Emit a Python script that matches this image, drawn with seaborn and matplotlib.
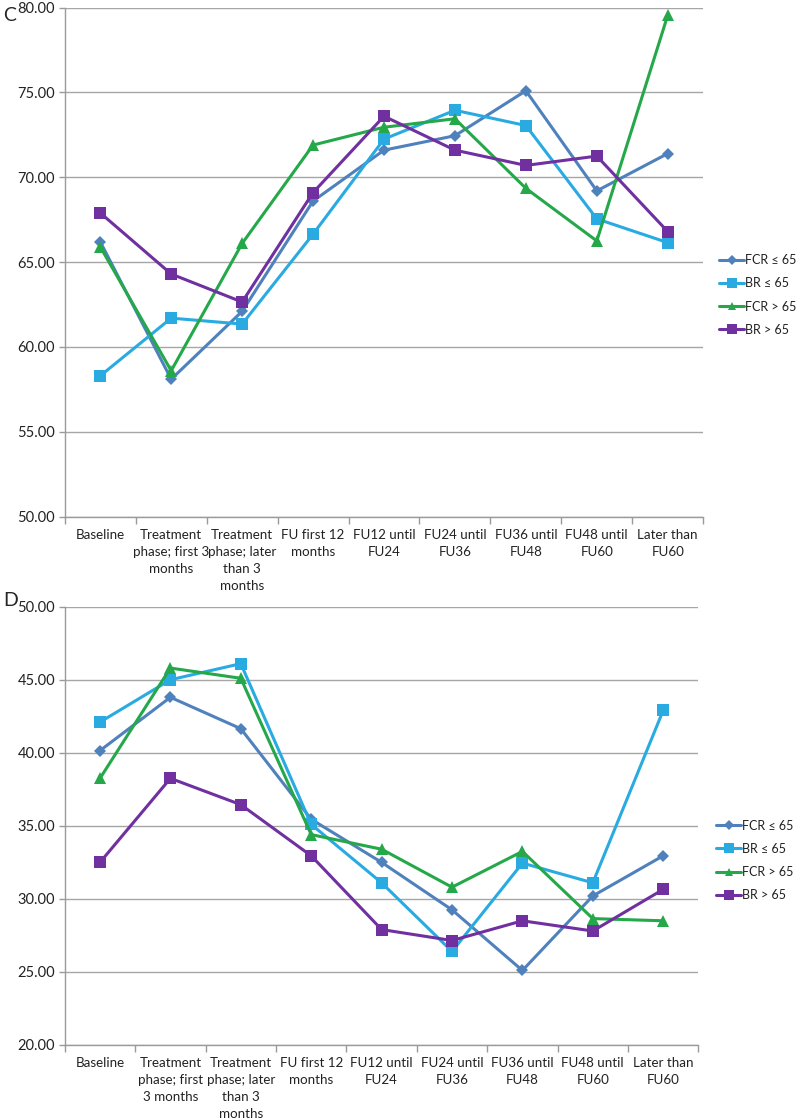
import numpy as np
import pandas as pd
import matplotlib
matplotlib.use("Agg")
import matplotlib.pyplot as plt
from matplotlib.ticker import FixedLocator, FormatStrFormatter
import seaborn as sns

# categories (x axis)
labels_c = ['Baseline', 'Treatment\nphase; first 3\nmonths', 'Treatment\nphase; later\nthan 3\nmonths',
            'FU first 12\nmonths', 'FU12 until\nFU24', 'FU24 until\nFU36', 'FU36 until\nFU48',
            'FU48 until\nFU60', 'Later than\nFU60']
labels_d = ['Baseline', 'Treatment\nphase; first\n3 months', 'Treatment\nphase; later\nthan 3\nmonths',
            'FU first 12\nmonths', 'FU12 until\nFU24', 'FU24 until\nFU36', 'FU36 until\nFU48',
            'FU48 until\nFU60', 'Later than\nFU60']

series = ['FCR ≤ 65', 'BR ≤ 65', 'FCR > 65', 'BR > 65']

# panel C values
c_fcr_le = [66.2, 58.1, 62.1, 68.6, 71.6, 72.45, 75.1, 69.2, 71.4]
c_br_le = [58.3, 61.7, 61.35, 66.65, 72.25, 73.95, 73.05, 67.55, 66.15]
c_fcr_gt = [65.9, 58.6, 66.1, 71.9, 72.95, 73.45, 69.35, 66.25, 79.55]
c_br_gt = [67.9, 64.3, 62.65, 69.1, 73.6, 71.6, 70.7, 71.25, 66.8]

# panel D values
d_fcr_le = [40.15, 43.8, 41.65, 35.45, 32.5, 29.25, 25.1, 30.2, 32.95]
d_br_le = [42.1, 45.0, 46.1, 35.1, 31.1, 26.4, 32.45, 31.1, 42.9]
d_fcr_gt = [38.25, 45.8, 45.1, 34.4, 33.4, 30.8, 33.25, 28.65, 28.5]
d_br_gt = [32.5, 38.25, 36.45, 32.95, 27.9, 27.15, 28.5, 27.8, 30.65]

colors = ['#4F81BD', '#29ABE2', '#25A84A', '#7030A0']
markers = ['D', 's', '^', 's']
msizes = [6, 8.5, 8, 8.5]

sns.set_theme(style='white')
plt.rcParams['font.family'] = ['Lato', 'DejaVu Sans']

fig = plt.figure(figsize=(8, 11.2), dpi=100)
ax_c = fig.add_axes([0.081, 0.5387, 0.798, 0.4545])
ax_d = fig.add_axes([0.081, 0.067, 0.792, 0.3913])

x = np.arange(len(labels_c))


def draw(ax, vals, labels, ylim, legend_y, legend_x):
    for name, v, col, mk, ms in zip(series, vals, colors, markers, msizes):
        df = pd.DataFrame({'x': x, 'y': v})
        sns.lineplot(data=df, x='x', y='y', ax=ax, color=col, marker=mk, markersize=ms,
                     markeredgewidth=0, linewidth=2.2, label=name)
    ax.set_xlim(-0.5, len(labels) - 0.5)
    ax.set_ylim(*ylim)
    ax.set_yticks(np.arange(ylim[0], ylim[1] + 0.1, 5))
    ax.yaxis.set_major_formatter(FormatStrFormatter('%.2f'))
    ax.set_xticks(x)
    ax.set_xticklabels(labels, fontsize=9.6, linespacing=1.5, color='#222222', va='top')
    ax.xaxis.set_minor_locator(FixedLocator(np.arange(-0.5, len(labels), 1)))
    ax.tick_params(axis='x', which='major', length=0, pad=9)
    ax.tick_params(axis='x', which='minor', length=5, color='#9a9a9a', width=1, direction='out',
                   bottom=True)
    ax.tick_params(axis='y', length=4, color='#9a9a9a', width=1, direction='out', left=True,
                   labelsize=10.5, labelcolor='#222222', pad=3)
    ax.yaxis.grid(True, color='#a6a6a6', linewidth=1)
    ax.xaxis.grid(False)
    ax.set_xlabel('')
    ax.set_ylabel('')
    for s in ['top', 'right']:
        ax.spines[s].set_visible(False)
    for s in ['left', 'bottom']:
        ax.spines[s].set_color('#9a9a9a')
        ax.spines[s].set_linewidth(1)
    leg = ax.legend(loc='center left', bbox_to_anchor=(legend_x, legend_y), frameon=False,
                    borderaxespad=0, borderpad=0, handlelength=2.0, handletextpad=0.1,
                    labelspacing=0.9, fontsize=9, markerscale=0.8)
    for t in leg.get_texts():
        t.set_color('#222222')


draw(ax_c, [c_fcr_le, c_br_le, c_fcr_gt, c_br_gt], labels_c, (50, 80), 0.4356, 1.025)
draw(ax_d, [d_fcr_le, d_br_le, d_fcr_gt, d_br_gt], labels_d, (20, 50), 0.421, 1.028)

fig.text(0.004, 0.986, 'C', fontsize=14, va='center', ha='left')
fig.text(0.004, 0.464, 'D', fontsize=14, va='center', ha='left')

fig.savefig('out.png', dpi=100)
